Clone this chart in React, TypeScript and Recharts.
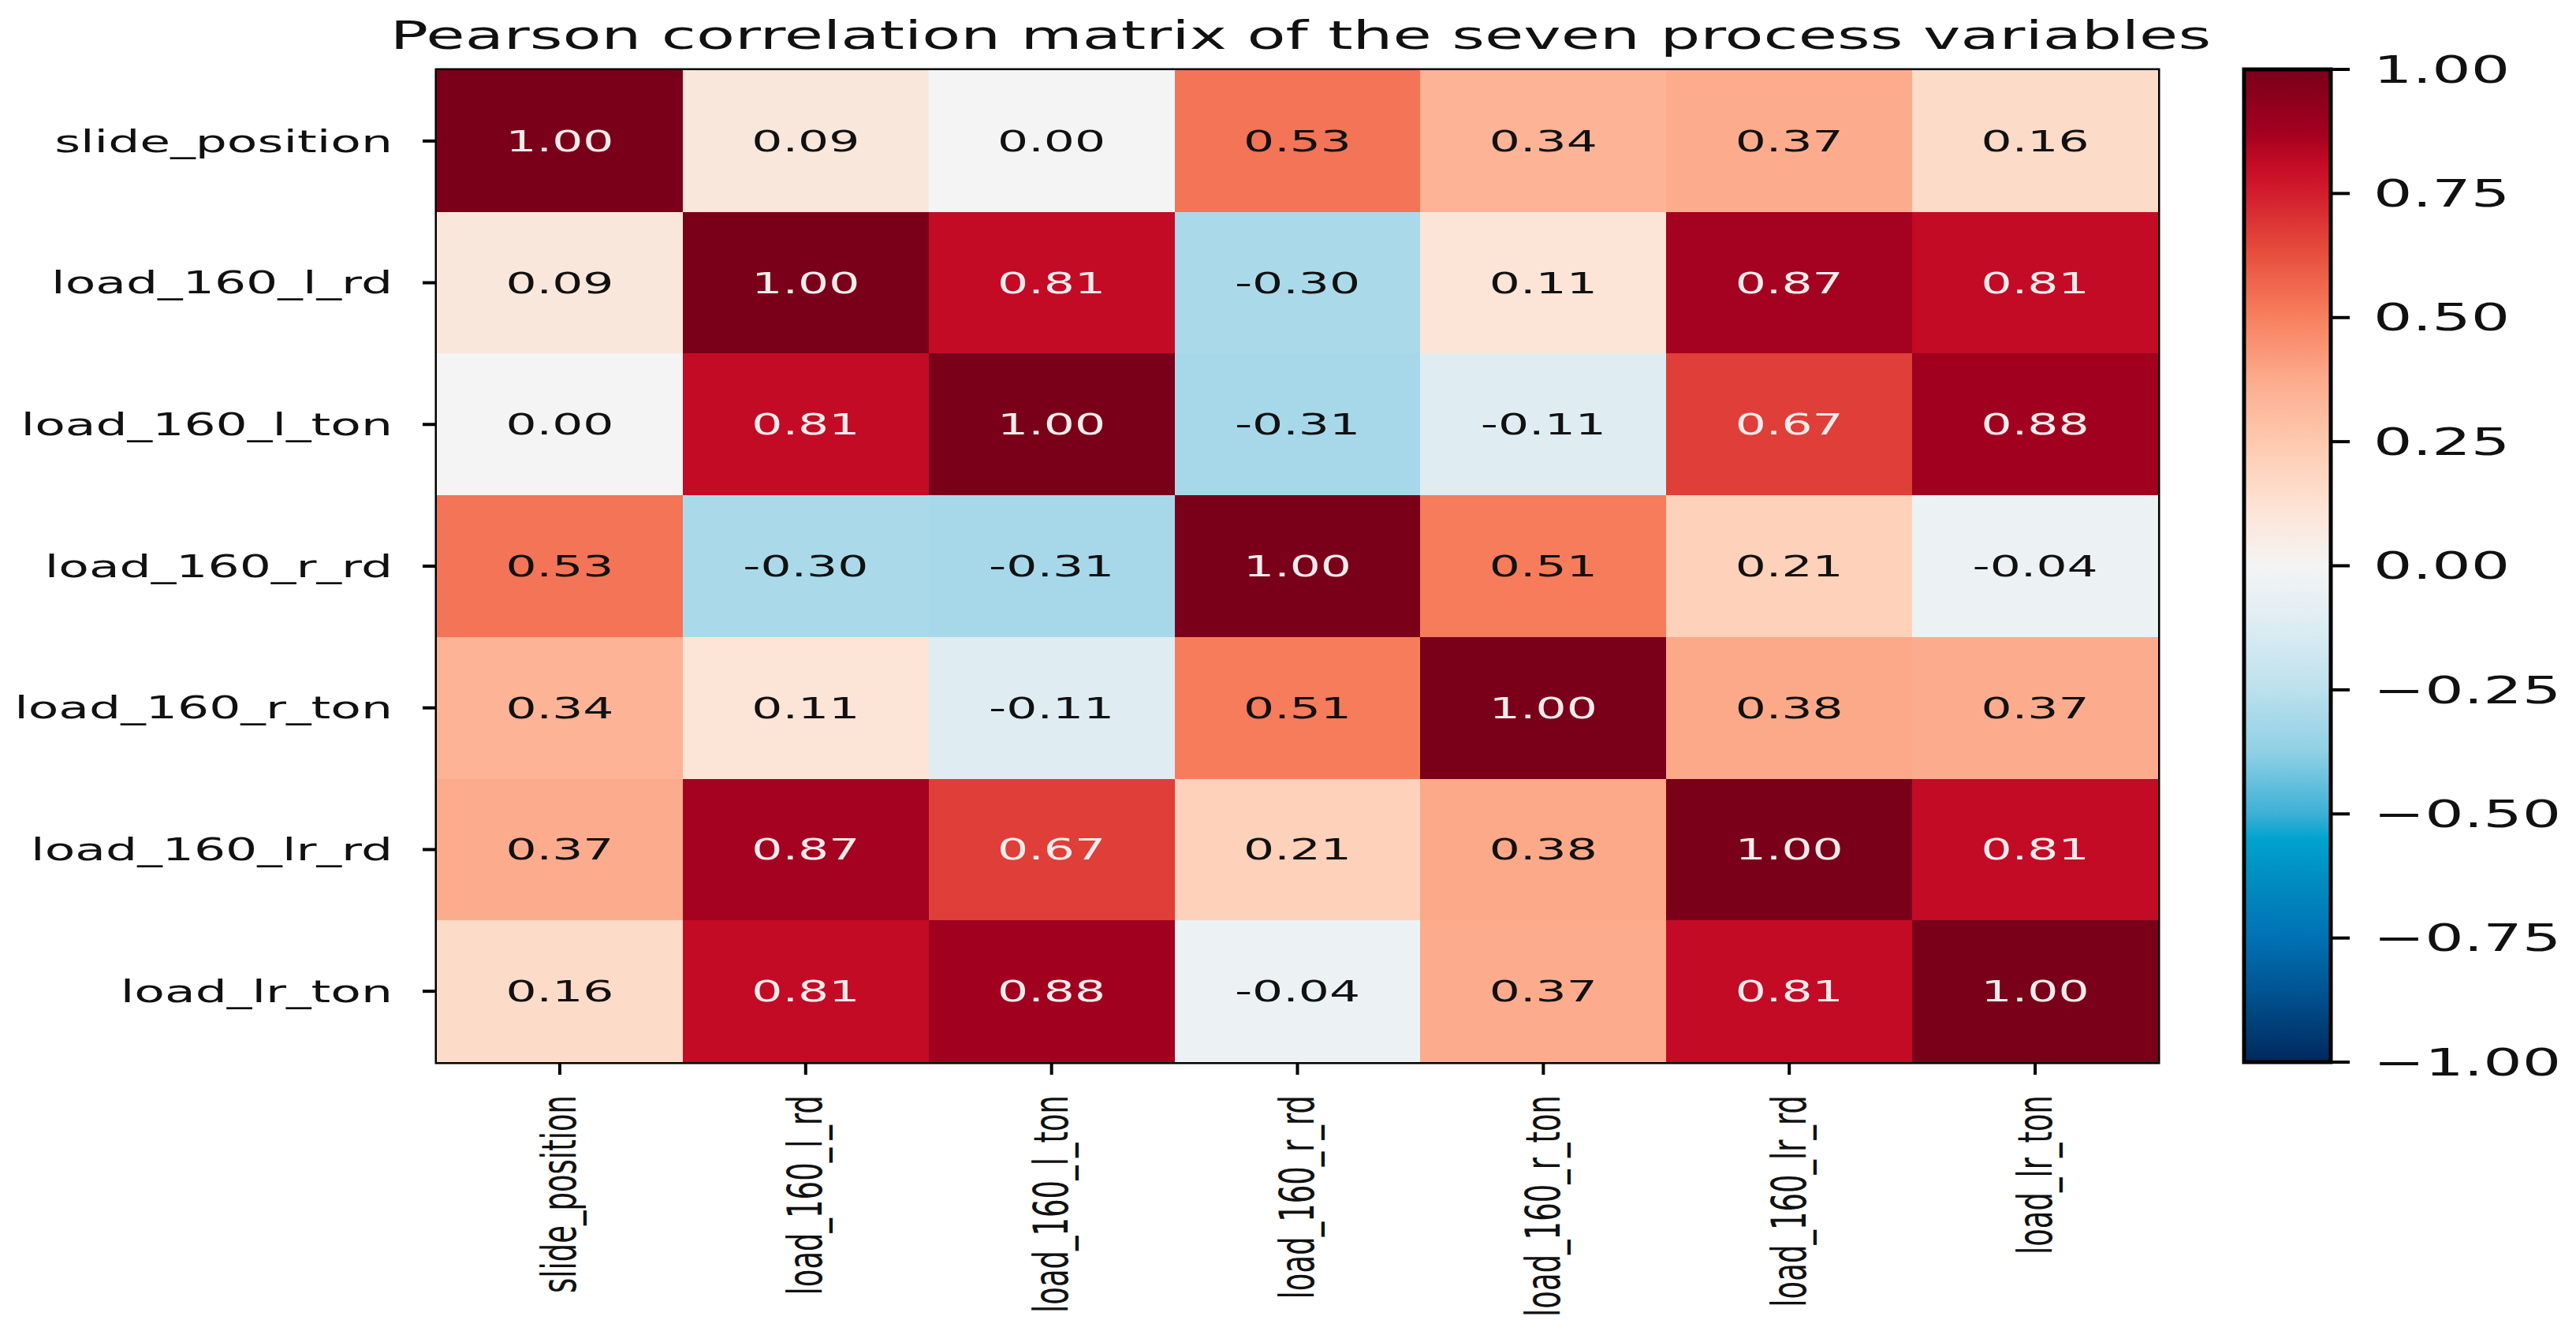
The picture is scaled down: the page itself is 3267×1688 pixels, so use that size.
import React from "react";
import { ScatterChart, Scatter, XAxis, YAxis, ReferenceArea, BarChart, Bar } from "recharts";

// variable names, in row/column order
const VARIABLES = [
  "slide_position",
  "load_160_l_rd",
  "load_160_l_ton",
  "load_160_r_rd",
  "load_160_r_ton",
  "load_160_lr_rd",
  "load_lr_ton",
];

// one row of the correlation matrix per variable
const ROW_SLIDE_POSITION = [1.0, 0.09, 0.0, 0.53, 0.34, 0.37, 0.16];
const ROW_LOAD_160_L_RD = [0.09, 1.0, 0.81, -0.3, 0.11, 0.87, 0.81];
const ROW_LOAD_160_L_TON = [0.0, 0.81, 1.0, -0.31, -0.11, 0.67, 0.88];
const ROW_LOAD_160_R_RD = [0.53, -0.3, -0.31, 1.0, 0.51, 0.21, -0.04];
const ROW_LOAD_160_R_TON = [0.34, 0.11, -0.11, 0.51, 1.0, 0.38, 0.37];
const ROW_LOAD_160_LR_RD = [0.37, 0.87, 0.67, 0.21, 0.38, 1.0, 0.81];
const ROW_LOAD_LR_TON = [0.16, 0.81, 0.88, -0.04, 0.37, 0.81, 1.0];

const CORRELATION = [
  ROW_SLIDE_POSITION,
  ROW_LOAD_160_L_RD,
  ROW_LOAD_160_L_TON,
  ROW_LOAD_160_R_RD,
  ROW_LOAD_160_R_TON,
  ROW_LOAD_160_LR_RD,
  ROW_LOAD_LR_TON,
];

const COLORBAR_TICKS = [-1, -0.75, -0.5, -0.25, 0, 0.25, 0.5, 0.75, 1];
const COLORBAR_RANGE = [-1, 1];

const TITLE = "Pearson correlation matrix of the seven process variables";

// diverging red/blue colour map, value -> hex
const CMAP: [number, string][] = [
  [-1.0, "#00285c"],
  [-0.875, "#004f8c"],
  [-0.75, "#0071b4"],
  [-0.625, "#008fc2"],
  [-0.55, "#00a3cf"],
  [-0.5, "#3db0d6"],
  [-0.375, "#8fd0e5"],
  [-0.25, "#bce0ec"],
  [-0.125, "#dcecf3"],
  [0.0, "#f4f4f4"],
  [0.125, "#fde2d3"],
  [0.25, "#fdc9ae"],
  [0.375, "#fcab8c"],
  [0.5, "#f7805f"],
  [0.625, "#e8503e"],
  [0.75, "#d21d2d"],
  [0.8, "#c80d27"],
  [0.875, "#a3001f"],
  [1.0, "#7a001a"],
];

const hexToRgb = (h: string) => [1, 3, 5].map((i) => parseInt(h.slice(i, i + 2), 16));

function colorFor(v: number): string {
  for (let i = 1; i < CMAP.length; i++) {
    const [v1, c1] = CMAP[i];
    if (v <= v1) {
      const [v0, c0] = CMAP[i - 1];
      const t = (v - v0) / (v1 - v0);
      const a = hexToRgb(c0);
      const b = hexToRgb(c1);
      const rgb = a.map((x, k) => Math.round(x + (b[k] - x) * t));
      return `rgb(${rgb.join(",")})`;
    }
  }
  return CMAP[CMAP.length - 1][1];
}

const FONT = "'DejaVu Sans', sans-serif";
const STRETCH = 1.62; // figure is rendered wide, text is stretched with it

// plot box in page pixels
const PLOT_LEFT = 554;
const PLOT_TOP = 89;
const PLOT_RIGHT = 2737;
const PLOT_BOTTOM = 1347;
const CELL_W = (PLOT_RIGHT - PLOT_LEFT) / VARIABLES.length;
const CELL_H = (PLOT_BOTTOM - PLOT_TOP) / VARIABLES.length;

const MAIN_W = 2800;
const FIG_H = 1688;
const Y_AXIS_W = 540;
const X_AXIS_H = 320;

const CB_LEFT = 2800;
const CB_W = 467;
const CB_BAR_LEFT = 2846;
const CB_BAR_RIGHT = 2956;
const CB_AXIS_W = 260;

const cells = CORRELATION.flatMap((row, r) => row.map((v, c) => ({ x: c, y: r, v })));
const colorbarData = [{ name: "scale", span: COLORBAR_RANGE }];
const indexTicks = VARIABLES.map((_, i) => i);

const CellShape = (props: any) => {
  const { cx, cy, payload } = props;
  const v: number = payload.v;
  return (
    <g>
      <rect
        x={cx - CELL_W / 2}
        y={cy - CELL_H / 2}
        width={CELL_W + 0.6}
        height={CELL_H + 0.6}
        fill={colorFor(v)}
        shapeRendering="crispEdges"
      />
      <text
        transform={`translate(${cx},${cy}) scale(${STRETCH},1)`}
        textAnchor="middle"
        dominantBaseline="central"
        fontFamily={FONT}
        fontSize={38}
        fill={v > 0.6 ? "#f4ecec" : "#111"}
      >
        {v.toFixed(2)}
      </text>
    </g>
  );
};

const YTick = (props: any) => {
  const { x, y, payload } = props;
  return (
    <text
      transform={`translate(${x},${y}) scale(${STRETCH},1)`}
      textAnchor="end"
      dominantBaseline="central"
      fontFamily={FONT}
      fontSize={39}
      fill="#111"
    >
      {VARIABLES[payload.value]}
    </text>
  );
};

const XTick = (props: any) => {
  const { x, y, payload } = props;
  return (
    <text
      transform={`translate(${x},${y}) scale(${STRETCH},1) rotate(-90)`}
      textAnchor="end"
      dominantBaseline="central"
      fontFamily={FONT}
      fontSize={37}
      fill="#111"
    >
      {VARIABLES[payload.value]}
    </text>
  );
};

const ColorbarTick = (props: any) => {
  const { x, y, payload } = props;
  const label = payload.value.toFixed(2).replace("-", "\u2212");
  return (
    <text
      transform={`translate(${x},${y}) scale(${STRETCH},1)`}
      textAnchor="start"
      dominantBaseline="central"
      fontFamily={FONT}
      fontSize={48}
      fill="#111"
    >
      {label}
    </text>
  );
};

export default function App() {
  return (
    <div
      style={{
        position: "absolute",
        left: 0,
        top: 0,
        width: 3267,
        height: FIG_H,
        background: "#fff",
      }}
    >
      <svg width={3267} height={90} style={{ position: "absolute", left: 0, top: 0 }}>
        <text
          transform={`translate(${(PLOT_LEFT + PLOT_RIGHT) / 2 + 4},62) scale(${STRETCH},1)`}
          textAnchor="middle"
          fontFamily={FONT}
          fontSize={49.5}
          fill="#111"
        >
          {TITLE}
        </text>
      </svg>

      <div style={{ position: "absolute", left: 0, top: 0 }}>
        <ScatterChart
          width={MAIN_W}
          height={FIG_H}
          margin={{
            top: PLOT_TOP,
            right: MAIN_W - PLOT_RIGHT,
            bottom: FIG_H - PLOT_BOTTOM - X_AXIS_H,
            left: PLOT_LEFT - Y_AXIS_W,
          }}
        >
          <XAxis
            type="number"
            dataKey="x"
            domain={[-0.5, VARIABLES.length - 0.5]}
            ticks={indexTicks}
            interval={0}
            allowDataOverflow
            height={X_AXIS_H}
            axisLine={false}
            tickLine={{ stroke: "#000", strokeWidth: 4 }}
            tickSize={16}
            tickMargin={26}
            tick={XTick}
          />
          <YAxis
            type="number"
            dataKey="y"
            domain={[-0.5, VARIABLES.length - 0.5]}
            reversed
            ticks={indexTicks}
            interval={0}
            allowDataOverflow
            width={Y_AXIS_W}
            axisLine={false}
            tickLine={{ stroke: "#000", strokeWidth: 4 }}
            tickSize={18}
            tickMargin={38}
            tick={YTick}
          />
          <Scatter data={cells} shape={CellShape} isAnimationActive={false} />
          <ReferenceArea
            x1={-0.5}
            x2={VARIABLES.length - 0.5}
            y1={-0.5}
            y2={VARIABLES.length - 0.5}
            fill="none"
            fillOpacity={0}
            stroke="#000"
            strokeWidth={5}
            ifOverflow="visible"
          />
        </ScatterChart>
      </div>

      <div style={{ position: "absolute", left: CB_LEFT, top: 0 }}>
        <BarChart
          width={CB_W}
          height={FIG_H}
          data={colorbarData}
          barCategoryGap={0}
          margin={{
            top: PLOT_TOP - 1,
            right: CB_W - (CB_BAR_RIGHT - CB_LEFT) - CB_AXIS_W,
            bottom: FIG_H - PLOT_BOTTOM,
            left: CB_BAR_LEFT - CB_LEFT,
          }}
        >
          <defs>
            <linearGradient id="rdbu" x1="0" y1="0" x2="0" y2="1">
              {CMAP.slice()
                .reverse()
                .map(([v, c]) => (
                  <stop key={v} offset={`${((1 - v) / 2) * 100}%`} stopColor={c} />
                ))}
            </linearGradient>
          </defs>
          <XAxis dataKey="name" hide />
          <YAxis
            orientation="right"
            type="number"
            domain={COLORBAR_RANGE}
            ticks={COLORBAR_TICKS}
            interval={0}
            width={CB_AXIS_W}
            axisLine={false}
            tickLine={{ stroke: "#000", strokeWidth: 4 }}
            tickSize={24}
            tickMargin={30}
            tick={ColorbarTick}
          />
          <Bar
            dataKey="span"
            fill="url(#rdbu)"
            stroke="#000"
            strokeWidth={5}
            isAnimationActive={false}
          />
        </BarChart>
      </div>
    </div>
  );
}
